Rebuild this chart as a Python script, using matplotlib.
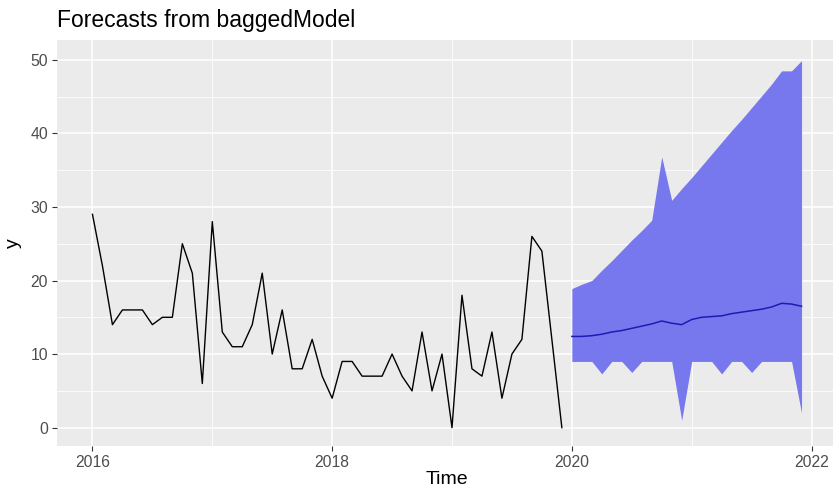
import numpy as np
import matplotlib.pyplot as plt

# monthly history, Jan 2016 - Dec 2019
hist = [29, 22, 14, 16, 16, 16, 14, 15, 15, 25, 21, 6,
        28, 13, 11, 11, 14, 21, 10, 16, 8, 8, 12, 7,
        4, 9, 9, 7, 7, 7, 10, 7, 5, 13, 5, 10,
        0, 18, 8, 7, 13, 4, 10, 12, 26, 24, 12, 0]

# bagged forecast, Jan 2020 - Dec 2021
fc_mean = [12.4, 12.4, 12.5, 12.7, 13.0, 13.2, 13.5, 13.8, 14.1, 14.5, 14.2, 14.0,
           14.7, 15.0, 15.1, 15.2, 15.5, 15.7, 15.9, 16.1, 16.4, 16.9, 16.8, 16.5]
fc_lower = [9.0, 9.0, 9.0, 7.3, 9.0, 9.0, 7.5, 9.0, 9.0, 9.0, 9.0, 1.0,
            9.0, 9.0, 9.0, 7.3, 9.0, 9.0, 7.5, 9.0, 9.0, 9.0, 9.0, 2.0]
fc_upper = [18.9, 19.5, 20.0, 21.4, 22.7, 24.1, 25.5, 26.8, 28.2, 36.8, 30.9, 32.5,
            34.0, 35.6, 37.2, 38.8, 40.4, 41.9, 43.5, 45.1, 46.7, 48.5, 48.5, 49.9]

t_hist = 2016 + np.arange(len(hist)) / 12
t_fc = 2020 + np.arange(len(fc_mean)) / 12

plt.rcParams['font.family'] = ['Liberation Sans', 'DejaVu Sans']

W, H = 833, 492
fig = plt.figure(figsize=(W / 100, H / 100), dpi=100)
# panel in pixels: left, right, top, bottom
L, R, T, B = 57, 837, 40, 446
ax = fig.add_axes([L / W, 1 - B / H, (R - L) / W, (B - T) / H])
ax.set_facecolor('#EBEBEB')

ax.fill_between(t_fc, fc_lower, fc_upper, color='#7878EE', lw=0, zorder=2)
ax.plot(t_fc, fc_mean, color='#1C1CB4', lw=1.1, zorder=3)
ax.plot(t_hist, hist, color='black', lw=1.0, zorder=3)

# ggplot-style 5% expansion
x0, x1 = t_hist[0], t_fc[-1]
dx = 0.05 * (x1 - x0)
ax.set_xlim(x0 - dx, x1 + dx)
y0, y1 = 0, max(fc_upper)
dy = 0.05 * (y1 - y0)
ax.set_ylim(y0 - dy, y1 + dy + 0.3)

ax.set_xticks([2016, 2018, 2020, 2022])
ax.set_xticks([2017, 2019, 2021], minor=True)
ax.set_yticks([0, 10, 20, 30, 40, 50])
ax.set_yticks([5, 15, 25, 35, 45], minor=True)
ax.grid(which='major', color='white', lw=1.1, zorder=0)
ax.grid(which='minor', color='white', lw=0.55, zorder=0)
ax.set_axisbelow(True)
for s in ax.spines.values():
    s.set_visible(False)
ax.tick_params(which='major', length=3.5, width=0.8, color='#333333',
               labelcolor='#4D4D4D', labelsize=11.3, pad=3)
ax.tick_params(which='minor', length=0)

ax.set_xlabel('Time', fontsize=14, color='black', labelpad=1)
ax.set_ylabel('y', fontsize=14, color='black', labelpad=6)
fig.text(L / W, 1 - 21 / H, 'Forecasts from baggedModel', fontsize=16.5,
         ha='left', va='center')

fig.savefig('out.png', dpi=100)
